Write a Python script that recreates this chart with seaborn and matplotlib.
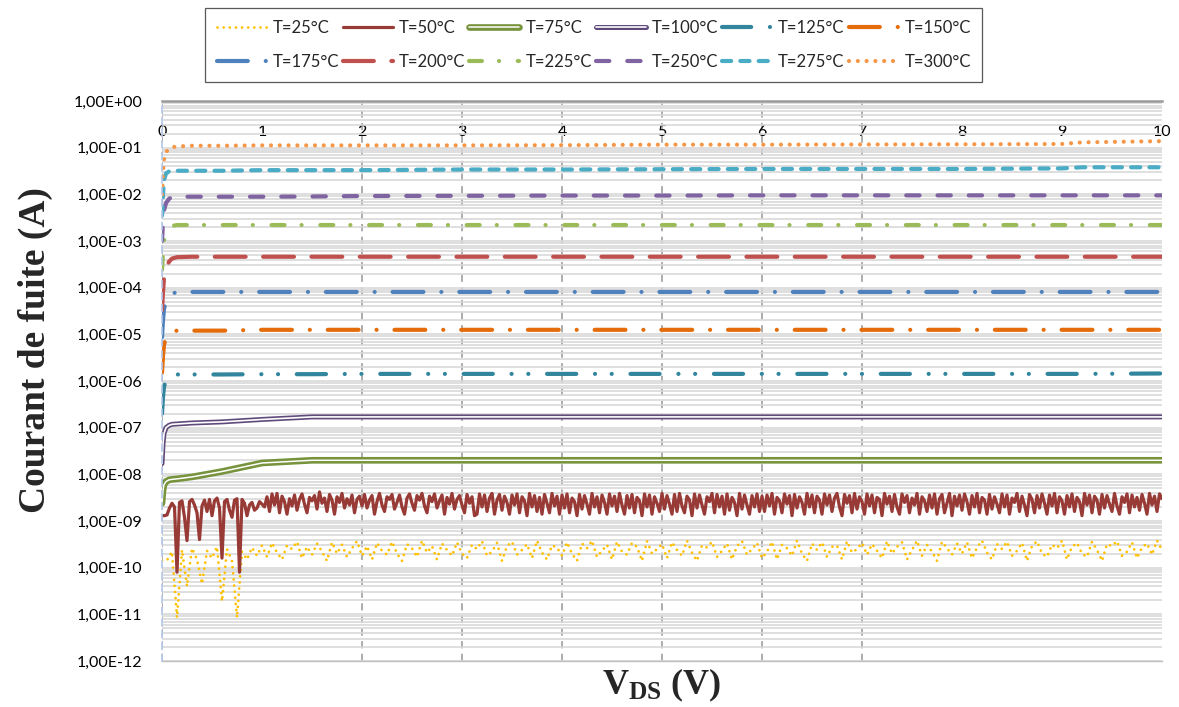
import numpy as np
import matplotlib
matplotlib.use("Agg")
import matplotlib.pyplot as plt
import matplotlib.ticker as mticker
import matplotlib.patheffects as pe
import seaborn as sns

# ---------------- data ----------------
labels = ["T=25°C", "T=50°C", "T=75°C", "T=100°C", "T=125°C", "T=150°C",
          "T=175°C", "T=200°C", "T=225°C", "T=250°C", "T=275°C", "T=300°C"]

x_ticks = [0, 1, 2, 3, 4, 5, 6, 7, 8, 9, 10]
y_ticks = [1e-12, 1e-11, 1e-10, 1e-9, 1e-8, 1e-7, 1e-6, 1e-5, 1e-4, 1e-3, 1e-2, 1e-1, 1e0]

# VDS grids
vds_25 = np.round(np.arange(201) * 0.05, 3)     # step 0.05 V
vds_50 = np.round(np.arange(401) * 0.025, 3)    # step 0.025 V
vds_sparse = [0, 0.01, 0.02, 0.04, 0.07, 0.1, 0.15, 0.3, 0.6, 1.0, 1.5, 2, 3, 4,
              5, 6, 7, 8, 9, 9.2, 10]

# T=25°C in units of 1e-10 A
i_25C_e10 = [
    1.4, 1.45, 2.2, 0.085, 2.4, 0.4, 2.6, 1.5, 0.45, 2.3, 1.6, 2.8, 0.19, 2.5, 1.4, 0.085, 2.2, 1.5, 2.7, 1.8, 3.0,
    1.7, 3.4, 2.1, 1.5, 3.0, 2.5, 3.6, 1.6, 2.8, 1.9, 3.3, 2.2, 1.4, 3.5, 2.0, 3.1, 1.7, 2.6, 3.7, 1.8,
    2.9, 1.5, 3.4, 2.3, 1.9, 3.6, 2.0, 1.4, 3.2, 2.6, 1.7, 3.8, 2.1, 2.9, 1.5, 3.3, 2.4, 1.8, 3.5, 2.0,
    1.6, 3.1, 2.5, 3.7, 1.8, 2.2, 3.4, 1.4, 2.9, 3.6, 1.9, 2.4, 3.2, 1.6, 3.8, 2.1, 1.5, 3.0, 2.7, 1.8,
    3.5, 2.0, 1.4, 3.3, 2.6, 3.8, 1.7, 2.3, 3.1, 1.5, 3.6, 2.2, 1.9, 3.4, 2.8, 1.4, 3.7, 2.0, 2.5, 3.2,
    1.6, 3.5, 2.4, 1.8, 3.8, 2.1, 1.4, 3.0, 2.7, 3.6, 1.7, 2.3, 3.3, 1.5, 2.9, 3.7, 1.9, 2.5, 3.4, 1.6,
    2.2, 3.6, 1.5, 3.1, 2.6, 1.8, 3.8, 2.0, 1.4, 3.3, 2.4, 3.5, 1.7, 2.8, 3.0, 1.5, 3.7, 2.1, 2.5, 3.4,
    1.9, 3.2, 2.3, 1.6, 3.7, 2.0, 2.8, 3.5, 1.5, 2.4, 3.8, 1.8, 3.1, 2.2, 1.4, 3.6, 2.6, 1.9, 3.3, 2.0,
    3.5, 1.6, 2.7, 3.8, 2.1, 1.5, 3.2, 2.5, 3.6, 1.8, 2.3, 3.4, 1.4, 2.9, 3.7, 2.0, 1.7, 3.1, 2.6, 3.8,
    1.5, 2.8, 3.4, 2.0, 1.7, 3.6, 2.4, 1.4, 3.2, 2.9, 3.7, 1.8, 2.2, 3.5, 1.6, 2.7, 3.3, 1.9, 3.8, 2.4,
]

# T=50°C in units of 1e-9 A
i_50C_e9 = [
    1.3, 1.3, 1.35, 1.9, 2.4, 2.0, 0.08, 2.5, 2.7, 1.2,
    0.38, 2.6, 2.9, 2.2, 1.5, 0.4, 2.1, 2.8, 1.6, 2.9,
    1.3, 2.7, 3.1, 1.9, 0.16, 2.6, 2.9, 1.7, 1.2, 2.8,
    3.0, 0.08, 2.9, 2.4, 1.3, 2.2, 2.5, 1.7, 1.9, 2.6,
    2.3,
    2.0, 3.3, 1.6, 3.8, 2.2, 3.9, 1.5, 3.4, 2.6, 1.4,
    3.0, 2.1, 3.6, 1.7, 2.9, 3.8, 2.3, 1.5, 3.2, 2.7,
    3.5, 1.8, 4.2, 2.4, 3.1, 1.6, 3.7, 2.8, 1.4, 3.3,
    2.5, 3.9, 1.9, 3.0, 2.2, 3.6, 1.5, 2.9, 3.4, 2.1,
    3.7, 1.9, 2.8, 3.5, 1.4, 2.6, 3.9, 2.2, 1.6, 3.3,
    2.9, 3.7, 1.8, 2.5, 3.6, 2.0, 1.4, 3.1, 3.8, 2.4,
    1.7, 3.5, 2.8, 3.9, 2.1, 1.5, 3.4, 2.6, 3.8, 1.9,
    2.7, 3.6, 1.4, 3.2, 2.3, 3.9, 1.8, 2.9, 3.5, 2.2,
    1.5, 3.7, 2.4, 3.3, 1.3, 1.4, 3.8, 2.0, 3.6, 1.6,
    3.1, 3.9, 1.4, 2.8, 3.7, 1.7, 3.4, 2.5, 1.4, 3.6,
    2.2, 3.8, 1.5, 3.3, 2.7, 1.3, 3.9, 2.0, 3.5, 1.6,
    3.2, 1.4, 3.7, 2.4, 1.5, 3.9, 2.1, 3.4, 1.4, 3.6,
    1.9, 3.8, 1.5, 3.1, 2.6, 1.3, 3.7, 1.8, 3.5, 2.3,
    1.4, 3.9, 2.0, 3.3, 1.5, 3.6, 2.5, 1.4, 3.8, 2.1,
    3.4, 1.6, 3.9, 2.2, 1.4, 3.5, 1.9, 3.7, 1.5, 3.2,
    2.7, 1.3, 3.8, 2.0, 3.6, 1.4, 3.3, 2.4, 1.6, 3.9,
    1.8, 3.5, 2.3, 1.4, 3.7, 1.6, 3.9, 2.1, 1.5, 3.4,
    2.8, 1.3, 3.8, 1.9, 3.6, 2.2, 1.4, 3.3, 2.6, 3.9,
    1.5, 3.7, 2.0, 3.4, 1.4, 3.8, 1.7, 3.2, 2.5, 1.3,
    3.9, 1.8, 3.6, 2.2, 1.4, 3.5, 2.0, 3.8, 1.6, 3.4,
    1.6, 3.6, 2.1, 3.9, 1.4, 3.2, 2.7, 1.5, 3.8, 2.3,
    3.5, 1.3, 3.7, 1.9, 3.3, 2.5, 1.4, 3.9, 2.0, 3.6,
    1.5, 3.4, 2.8, 1.4, 3.8, 2.2, 3.6, 1.6, 3.1, 3.9,
    2.0, 1.3, 3.7, 2.4, 3.5, 1.5, 3.9, 1.8, 3.3, 2.6,
    1.4, 3.8, 2.1, 3.6, 1.5, 3.2, 2.9, 1.3, 3.9, 2.3,
    3.4, 1.6, 3.7, 2.0, 1.4, 3.8, 2.5, 3.5, 1.5, 3.1,
    2.2, 3.9, 1.4, 3.3, 2.7, 1.6, 3.6, 1.9, 3.8, 1.4,
    3.0, 3.7, 1.5, 2.4, 3.9, 1.3, 3.4, 2.1, 3.6, 1.7,
    3.8, 2.6, 1.4, 3.5, 2.0, 3.9, 1.5, 3.2, 2.8, 1.4,
    3.7, 1.8, 3.3, 2.3, 1.5, 3.8, 2.0, 3.6, 1.4, 3.1,
    2.5, 3.9, 1.6, 3.4, 2.2, 1.3, 3.7, 2.9, 1.5, 3.5,
    1.9, 3.8, 2.4, 1.4, 3.6, 2.1, 3.9, 1.5, 3.3, 2.7,
    1.4, 3.5, 2.0, 3.8, 1.6, 3.2, 2.6, 1.3, 3.9, 2.2,
    3.6, 1.5, 3.4, 2.8, 1.4, 3.7, 1.9, 3.5, 2.3, 1.6,
    3.9, 2.1, 1.4, 3.3, 2.5, 3.8, 1.5, 3.6, 2.0, 3.2,
    1.7, 3.7, 2.4, 1.4, 3.9, 2.2, 3.4, 1.6, 3.8, 3.0,
]

i_75C = [2.4e-9, 4.5e-9, 6.0e-9, 7.0e-9, 7.6e-9, 7.8e-9, 8.0e-9, 8.8e-9, 1.15e-8, 1.75e-8, 2.0e-8,
         2.0e-8, 2.0e-8, 2.0e-8, 2.0e-8, 2.0e-8, 2.0e-8, 2.0e-8, 2.0e-8, 2.0e-8, 2.0e-8]
i_100C = [1.7e-8, 4.5e-8, 7.5e-8, 1.0e-7, 1.12e-7, 1.18e-7, 1.2e-7, 1.26e-7, 1.33e-7, 1.5e-7, 1.7e-7,
          1.7e-7, 1.7e-7, 1.7e-7, 1.7e-7, 1.7e-7, 1.7e-7, 1.7e-7, 1.7e-7, 1.7e-7, 1.7e-7]
i_125C = [2.0e-7, 4.5e-7, 7.5e-7, 1.05e-6, 1.25e-6, 1.35e-6, 1.38e-6, 1.38e-6, 1.38e-6, 1.4e-6, 1.4e-6,
          1.42e-6, 1.42e-6, 1.42e-6, 1.42e-6, 1.42e-6, 1.42e-6, 1.42e-6, 1.42e-6, 1.42e-6, 1.45e-6]
i_150C = [1.5e-6, 3.5e-6, 6.0e-6, 8.5e-6, 1.05e-5, 1.15e-5, 1.2e-5, 1.2e-5, 1.2e-5, 1.25e-5, 1.25e-5,
          1.25e-5, 1.25e-5, 1.25e-5, 1.25e-5, 1.25e-5, 1.25e-5, 1.25e-5, 1.25e-5, 1.25e-5, 1.25e-5]
i_175C = [8.7e-6, 2.0e-5, 3.5e-5, 5.0e-5, 6.5e-5, 7.5e-5, 8.0e-5, 8.1e-5, 8.1e-5, 8.1e-5, 8.1e-5,
          8.1e-5, 8.1e-5, 8.1e-5, 8.1e-5, 8.1e-5, 8.1e-5, 8.1e-5, 8.1e-5, 8.1e-5, 8.1e-5]
i_200C = [3.3e-5, 8.0e-5, 1.6e-4, 2.6e-4, 3.6e-4, 4.2e-4, 4.5e-4, 4.6e-4, 4.6e-4, 4.6e-4, 4.6e-4,
          4.6e-4, 4.6e-4, 4.6e-4, 4.6e-4, 4.6e-4, 4.6e-4, 4.6e-4, 4.6e-4, 4.6e-4, 4.6e-4]
i_225C = [2.4e-4, 5.5e-4, 1.0e-3, 1.5e-3, 1.9e-3, 2.1e-3, 2.2e-3, 2.2e-3, 2.2e-3, 2.2e-3, 2.2e-3,
          2.2e-3, 2.2e-3, 2.2e-3, 2.2e-3, 2.2e-3, 2.2e-3, 2.2e-3, 2.2e-3, 2.2e-3, 2.2e-3]
i_250C = [1.0e-3, 2.5e-3, 4.5e-3, 6.5e-3, 8.0e-3, 8.8e-3, 8.9e-3, 8.9e-3, 8.9e-3, 8.9e-3, 9.0e-3,
          9.2e-3, 9.3e-3, 9.4e-3, 9.4e-3, 9.5e-3, 9.5e-3, 9.5e-3, 9.5e-3, 9.5e-3, 9.5e-3]
i_275C = [3.5e-3, 1.0e-2, 2.0e-2, 2.8e-2, 3.1e-2, 3.2e-2, 3.2e-2, 3.2e-2, 3.2e-2, 3.3e-2, 3.3e-2,
          3.3e-2, 3.4e-2, 3.4e-2, 3.45e-2, 3.5e-2, 3.5e-2, 3.5e-2, 3.6e-2, 3.8e-2, 3.8e-2]
i_300C = [1.0e-2, 3.0e-2, 5.5e-2, 8.0e-2, 9.5e-2, 1.02e-1, 1.06e-1, 1.1e-1, 1.1e-1, 1.12e-1, 1.12e-1,
          1.12e-1, 1.12e-1, 1.13e-1, 1.16e-1, 1.16e-1, 1.17e-1, 1.18e-1, 1.2e-1, 1.3e-1, 1.38e-1]

colors = ["#FFC000", "#983A36", "#77933C", "#604A7B", "#31859C", "#E46C0A",
          "#4F81BD", "#C0504D", "#9BBB59", "#8064A2", "#4BACC6", "#F79646"]

# ---------------- style ----------------
sns.set_theme(style="white")
plt.rcParams["font.family"] = ["Lato", "DejaVu Sans"]
plt.rcParams["mathtext.fontset"] = "custom"
plt.rcParams["mathtext.rm"] = "Liberation Serif"
plt.rcParams["mathtext.bf"] = "Liberation Serif:bold"

fig = plt.figure(figsize=(11.79, 7.07), dpi=100)
ax = fig.add_axes([162 / 1179, 1 - 661 / 707, 1000 / 1179, 560 / 707])
ax.set_yscale("log")

series = [
    (vds_25, np.array(i_25C_e10) * 1e-10, dict(lw=2.0, dashes=(0.01, 2.2))),
    (vds_50, np.array(i_50C_e9) * 1e-9, dict(lw=2.3)),
    (vds_sparse, i_75C, dict(lw=4.8, inner=1.1)),
    (vds_sparse, i_100C, dict(lw=3.6, inner=1.2)),
    (vds_sparse, i_125C, dict(lw=3.0, dashes=(7.0, 4.5, 0.01, 4.0, 0.01, 4.5))),
    (vds_sparse, i_150C, dict(lw=3.0, dashes=(7.4, 4.3, 0.01, 4.3))),
    (vds_sparse, i_175C, dict(lw=3.0, dashes=(7.4, 4.3, 0.01, 4.3))),
    (vds_sparse, i_200C, dict(lw=3.0, dashes=(7.4, 4.2))),
    (vds_sparse, i_225C, dict(lw=3.0, dashes=(3.1, 4.1, 0.01, 4.5))),
    (vds_sparse, i_250C, dict(lw=3.0, dashes=(3.2, 4.3))),
    (vds_sparse, i_275C, dict(lw=3.0, dashes=(2.2, 2.2))),
    (vds_sparse, i_300C, dict(lw=3.0, dashes=(0.01, 2.1))),
]

lines = []
for (xv, yv, st), lab, col in zip(series, labels, colors):
    sns.lineplot(x=xv, y=yv, ax=ax, color=col, linewidth=st["lw"],
                 estimator=None, sort=False, legend=False)
    ln = ax.lines[-1]
    ln.set_label(lab)
    ln.set_solid_capstyle("round")
    ln.set_dash_capstyle("round")
    ln.set_solid_joinstyle("round")
    ln.set_dash_joinstyle("round")
    if "dashes" in st:
        ln.set_dashes(st["dashes"])
    if "inner" in st:
        ln.set_color("white")
        ln.set_linewidth(st["inner"])
        ln.set_path_effects([pe.Stroke(linewidth=st["lw"], foreground=col), pe.Normal()])
    lines.append(ln)

# ---------------- axes ----------------
ax.set_xlim(0, 10)
ax.set_ylim(1e-12, 1)
ax.xaxis.set_major_locator(mticker.FixedLocator(x_ticks))
ax.xaxis.tick_top()
ax.tick_params(axis="x", which="both", length=0, pad=-27, labelsize=11.5, labelcolor="black")
ax.yaxis.set_major_locator(mticker.FixedLocator(y_ticks))
ax.yaxis.set_minor_locator(mticker.LogLocator(base=10, subs=np.arange(2, 10), numticks=30))


def yfmt(v, pos):
    e = int(round(np.log10(v)))
    return "1,00E{}{:02d}".format("+" if e >= 0 else "-", abs(e))


ax.yaxis.set_major_formatter(mticker.FuncFormatter(yfmt))
ax.yaxis.set_minor_formatter(mticker.NullFormatter())
ax.tick_params(axis="y", which="both", length=0, pad=14, labelsize=11.5, labelcolor="black")
ax.set_xlabel("")
ax.set_ylabel("")

ax.grid(True, axis="y", which="both", color="#d9d9d9", linewidth=1.2)
ax.grid(True, axis="x", which="major", color="#a6a6a6", linewidth=1.3, linestyle=(0, (4, 3)))
ax.set_axisbelow(True)
for gl in ax.get_xgridlines():
    if gl.get_xdata()[0] == 0:
        gl.set_visible(False)

ax.spines["top"].set_color("#9a9a9a")
ax.spines["top"].set_linewidth(1.8)
ax.spines["bottom"].set_color("#bfbfbf")
ax.spines["bottom"].set_linewidth(1.0)
ax.spines["right"].set_visible(False)
ax.spines["left"].set_color("#b4c6e7")
ax.spines["left"].set_linewidth(1.2)
ax.spines["left"].set_linestyle((0, (4, 3)))

# ---------------- legend ----------------
order = [0, 6, 1, 7, 2, 8, 3, 9, 4, 10, 5, 11]
leg = fig.legend([lines[i] for i in order], [labels[i] for i in order], ncol=6,
                 loc="upper left", bbox_to_anchor=(205 / 1179, 1 - 8 / 707),
                 borderaxespad=0, frameon=True, fancybox=False, edgecolor="#303030",
                 fontsize=12.0, handlelength=3.0, handletextpad=0.35, columnspacing=0.25,
                 labelspacing=1.1, borderpad=0.7)
leg.get_frame().set_linewidth(0.9)

# ---------------- labels ----------------
fig.text(35 / 1179, 1 - 350 / 707, "Courant de fuite (A)", rotation=90, ha="center",
         va="center", fontsize=27, fontweight="bold", family="Liberation Serif")
fig.text(662 / 1179, 1 - 694 / 707, r"$\mathbf{V_{DS}}$ (V)", ha="center", va="baseline",
         fontsize=26, fontweight="bold", family="Liberation Serif")

fig.savefig("out.png", dpi=100)
